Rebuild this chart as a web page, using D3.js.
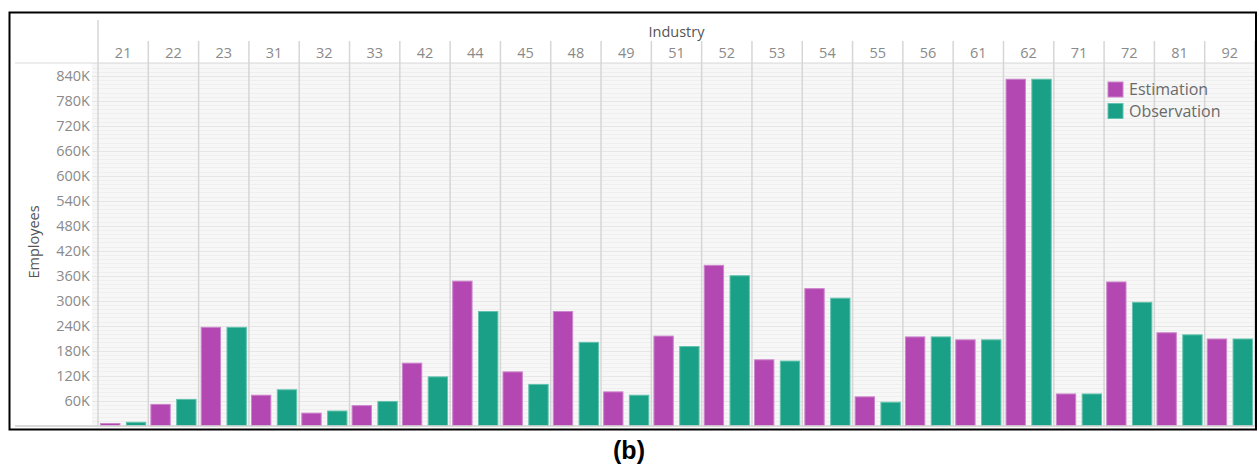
<!DOCTYPE html>
<html><head><meta charset="utf-8">
<script src="https://cdn.jsdelivr.net/npm/d3@7"></script>
<style>body{margin:0;background:#fff}svg{display:block}</style>
</head><body><svg id="c" width="1259" height="466"></svg>
<script>
const industries = ["21","22","23","31","32","33","42","44","45","48","49","51","52","53","54","55","56","61","62","71","72","81","92"];
const estimation = [5,51,236,73,30,48,150,347,129,274,81,215,385,158,329,69,213,206,832,76,345,223,208];
const observation = [8,63,236,86,35,58,117,274,99,200,73,190,360,155,306,56,213,206,832,76,296,218,208];
const seriesNames = ["Estimation","Observation"];
const yTicks = [60,120,180,240,300,360,420,480,540,600,660,720,780,840];

const colors = {Estimation:"#b348b2", Observation:"#19a086"};
const strokes = {Estimation:"#cc85cb", Observation:"#62c2ad"};
const font = "'Open Sans', sans-serif";

const svg = d3.select("#c");
const L = 98, R = 1255, T = 63, B = 425.6;

const x = d3.scaleBand().domain(industries).range([L, R]).padding(0);
const xs = d3.scaleBand().domain(seriesNames).range([0, x.bandwidth()]).paddingInner(0.25).paddingOuter(0.1);
const y = d3.scaleLinear().domain([0, 871]).range([B, T]);

// plot background
svg.append("rect").attr("x", 92).attr("y", T).attr("width", R - 92).attr("height", B - T).attr("fill", "#f7f7f7");
// fine gridlines
const fine = d3.range(10, 871, 10);
svg.append("g").selectAll("line").data(fine).join("line")
  .attr("x1", 92).attr("x2", R).attr("y1", d => Math.round(y(d)) + 0.5).attr("y2", d => Math.round(y(d)) + 0.5)
  .attr("stroke", d => d % 60 === 0 ? "#e6e6e6" : "#efefef").attr("stroke-width", 1);

// header horizontal line
svg.append("line").attr("x1", 15).attr("x2", R).attr("y1", T).attr("y2", T).attr("stroke", "#dcdcdc").attr("stroke-width", 1.2);

// column separators
const seps = industries.map(d => x(d)).concat([R]);
svg.append("g").selectAll("line").data(seps).join("line")
  .attr("x1", d => d).attr("x2", d => d)
  .attr("y1", (d, i) => i === 0 ? 20 : 41).attr("y2", B)
  .attr("stroke", "#d6d6d6").attr("stroke-width", 1.5);

// bars
const rows = industries.map((k, i) => ({k, Estimation: estimation[i], Observation: observation[i]}));
const g = svg.append("g");
g.selectAll("g").data(rows).join("g")
  .attr("transform", d => `translate(${x(d.k)},0)`)
  .selectAll("rect").data(d => seriesNames.map(s => ({s, v: d[s]}))).join("rect")
  .attr("x", d => xs(d.s)).attr("width", xs.bandwidth())
  .attr("y", d => y(d.v)).attr("height", d => B - y(d.v))
  .attr("fill", d => colors[d.s]).attr("stroke", d => strokes[d.s]).attr("stroke-width", 1);

// bottom axis line
svg.append("line").attr("x1", 15).attr("x2", R).attr("y1", 426).attr("y2", 426).attr("stroke", "#cfcfcf").attr("stroke-width", 1.5);

// y axis
const yAxis = d3.axisLeft(y).tickValues(yTicks).tickFormat(d => d + "K").tickSize(0).tickPadding(0);
const ya = svg.append("g").attr("transform", "translate(90,0)").call(yAxis);
ya.select(".domain").remove();
ya.selectAll("text").attr("font-family", font).attr("font-size", 14.5).attr("fill", "#8a8a8a");

// x header labels
const xAxis = d3.axisTop(x).tickSize(0).tickPadding(0);
const xa = svg.append("g").attr("transform", "translate(0,58)").call(xAxis);
xa.select(".domain").remove();
xa.selectAll("text").attr("font-family", font).attr("font-size", 14.5).attr("fill", "#8a8a8a");

// titles
svg.append("text").attr("x", (L + R) / 2).attr("y", 37).attr("text-anchor", "middle")
  .attr("font-family", font).attr("font-size", 14.5).attr("fill", "#555").text("Industry");
svg.append("text").attr("transform", "translate(39,242) rotate(-90)").attr("text-anchor", "middle")
  .attr("font-family", font).attr("font-size", 14.5).attr("fill", "#555").text("Employees");

// legend
const lg = svg.append("g").attr("transform", "translate(1108,82)");
const li = lg.selectAll("g").data(seriesNames).join("g").attr("transform", (d, i) => `translate(0,${i * 21.5})`);
li.append("rect").attr("width", 15).attr("height", 15).attr("fill", d => colors[d]).attr("stroke", d => strokes[d]);
li.append("text").attr("x", 21).attr("y", 13).attr("font-family", font).attr("font-size", 16).attr("fill", "#6a6a6a").text(d => d);

// outer border
svg.append("rect").attr("x", 9.5).attr("y", 12.5).attr("width", 1246.5).attr("height", 417).attr("fill", "none").attr("stroke", "#000").attr("stroke-width", 2);

// caption
svg.append("text").attr("x", 629).attr("y", 459).attr("text-anchor", "middle")
  .attr("font-family", "'Liberation Sans', Arial, sans-serif").attr("font-weight", "bold").attr("font-size", 25).attr("fill", "#000").text("(b)");
</script></body></html>
